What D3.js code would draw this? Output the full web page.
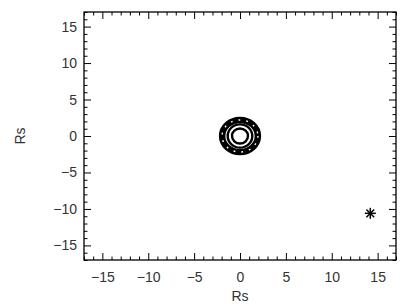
<!DOCTYPE html>
<html><head><meta charset="utf-8">
<script src="https://cdn.jsdelivr.net/npm/d3@7"></script>
<style>
html,body{margin:0;padding:0;background:#fff;}
svg{display:block;}
text{font-family:"Liberation Sans",Arial,sans-serif;}
</style></head>
<body>
<svg id="c" width="401" height="306"></svg>
<script>
// ---- data ----
const xDomain = [-17, 17];
const yDomain = [-17, 17];
const majorTicks = [-15, -10, -5, 0, 5, 10, 15];
const minorTicks = d3.range(-17, 18).filter(v => v % 5 !== 0);
const axisTitleX = "Rs";
const axisTitleY = "Rs";
// contour rings around the centre (data units): centre, radii, style
const contourCx = [0, 0, 0];
const contourCy = [0, 0, 0];
const contourRx = [1.95, 1.34, 0.87];
const contourRy = [2.2, 1.6, 1.03];
const contourDashed = [true, false, false];
// marked point (asterisk)
const starX = [14.2];
const starY = [-10.6];

// ---- layout ----
const svg = d3.select("#c");
const L = 84, R = 396, T = 12, B = 260;
const x = d3.scaleLinear().domain(xDomain).range([L, R]);
const y = d3.scaleLinear().domain(yDomain).range([B, T]);
const fmt = d => (d < 0 ? "\u2212" + Math.abs(d) : String(d));
const FS = "14px", TXT = "#333";

function styleAxis(g){
  g.select(".domain").remove();
  g.selectAll(".tick line").attr("stroke", "#000").attr("stroke-width", 1);
  g.selectAll("text").attr("fill", TXT).style("font-size", FS);
}
// major ticks, with labels
svg.append("g").attr("transform", `translate(0,${B})`)
  .call(d3.axisBottom(x).tickValues(majorTicks).tickFormat(fmt).tickSize(-7).tickPadding(12))
  .call(styleAxis);
svg.append("g").attr("transform", `translate(${L},0)`)
  .call(d3.axisLeft(y).tickValues(majorTicks).tickFormat(fmt).tickSize(-7).tickPadding(7))
  .call(styleAxis);
svg.append("g").attr("transform", `translate(0,${T})`)
  .call(d3.axisTop(x).tickValues(majorTicks).tickFormat("").tickSize(-7))
  .call(styleAxis);
svg.append("g").attr("transform", `translate(${R},0)`)
  .call(d3.axisRight(y).tickValues(majorTicks).tickFormat("").tickSize(-7))
  .call(styleAxis);
// minor ticks
[[d3.axisBottom(x), `translate(0,${B})`],
 [d3.axisTop(x), `translate(0,${T})`],
 [d3.axisLeft(y), `translate(${L},0)`],
 [d3.axisRight(y), `translate(${R},0)`]].forEach(([ax, tr]) => {
  svg.append("g").attr("transform", tr)
    .call(ax.tickValues(minorTicks).tickFormat("").tickSize(-3.5))
    .call(styleAxis);
});
// frame
svg.append("rect").attr("x", L).attr("y", T).attr("width", R - L).attr("height", B - T)
  .attr("fill", "none").attr("stroke", "#000").attr("stroke-width", 1.3);

// axis titles
svg.append("text").attr("x", (L + R) / 2).attr("y", 301).attr("text-anchor", "middle")
  .attr("fill", TXT).style("font-size", FS).text(axisTitleX);
svg.append("text").attr("transform", `translate(25,${(T + B) / 2}) rotate(-90)`)
  .attr("text-anchor", "middle").attr("fill", TXT).style("font-size", FS).text(axisTitleY);

// contours
const rings = contourRx.map((rx, i) => ({
  cx: contourCx[i], cy: contourCy[i], rx, ry: contourRy[i], dashed: contourDashed[i]
}));
const sx = d => Math.abs(x(d) - x(0));
const sy = d => Math.abs(y(0) - y(d));
rings.forEach(r => {
  svg.append("ellipse")
    .attr("cx", x(r.cx)).attr("cy", y(r.cy))
    .attr("rx", sx(r.rx)).attr("ry", sy(r.ry))
    .attr("fill", "none").attr("stroke", "#000")
    .attr("stroke-width", r.dashed ? 6.5 : 2.4);
  if (r.dashed) {
    svg.append("ellipse")
      .attr("cx", x(r.cx)).attr("cy", y(r.cy))
      .attr("rx", sx(r.rx)).attr("ry", sy(r.ry))
      .attr("fill", "none").attr("stroke", "#fff")
      .attr("stroke-width", 1.4).attr("stroke-dasharray", "1.8,6");
  }
});

// asterisk
const starG = svg.append("g");
starX.forEach((sxv, i) => {
  const cx = x(sxv), cy = y(starY[i]), s = 5.5;
  [0, 45, 90, 135].forEach(a => {
    const rad = a * Math.PI / 180;
    starG.append("line")
      .attr("x1", cx - s * Math.cos(rad)).attr("y1", cy - s * Math.sin(rad))
      .attr("x2", cx + s * Math.cos(rad)).attr("y2", cy + s * Math.sin(rad))
      .attr("stroke", "#000").attr("stroke-width", 1.5);
  });
});
</script>
</body></html>
